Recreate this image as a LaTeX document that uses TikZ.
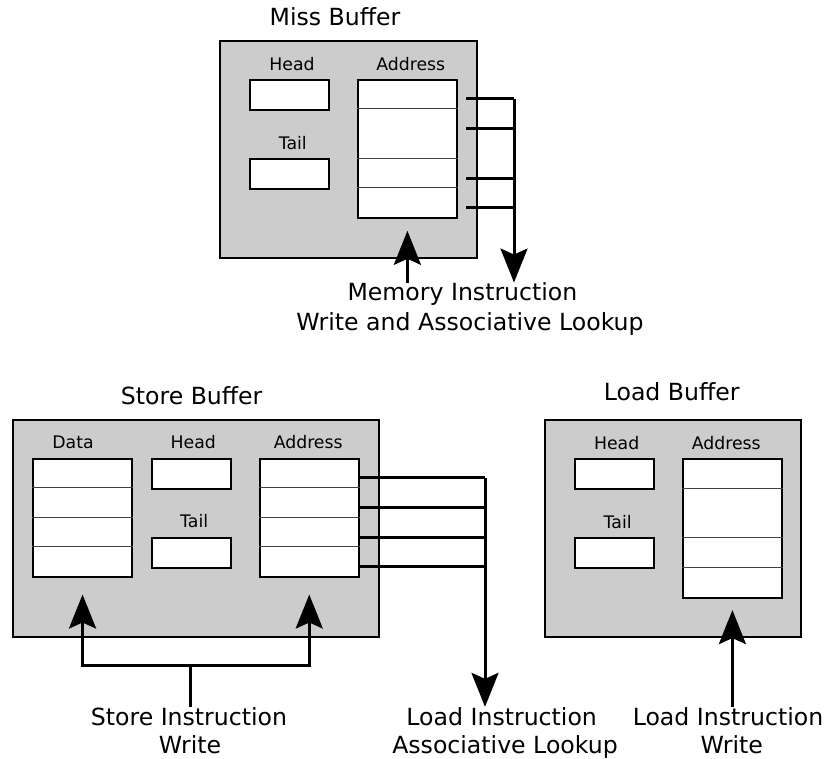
\documentclass[tikz,border=0pt]{standalone}
\usepackage{fontspec}
\setmainfont{DejaVu Sans}
\usetikzlibrary{arrows.meta}
\begin{document}
\begin{tikzpicture}[x=1pt,y=-1pt,
  panel/.style={draw=black, fill=black!20, line width=2pt, inner sep=0pt, anchor=north west},
  field/.style={draw=black, fill=white, line width=1.8pt, inner sep=0pt, anchor=north west},
  rowline/.style={draw=black!75, line width=1pt},
  wire/.style={line width=3pt},
  bigtip/.style={-{Stealth[width=27pt,length=34pt,inset=6pt]}},
  title/.style={font=\fontsize{23.6}{28}\selectfont, anchor=base},
  lbl/.style={font=\fontsize{17.3}{20}\selectfont, anchor=base},
  caption/.style={font=\fontsize{23.6}{28}\selectfont, anchor=base, inner sep=0pt},
]
\useasboundingbox (0,0) rectangle (827,759);

% ---------------- Miss Buffer ----------------
\node[panel, minimum width=257pt, minimum height=217pt] (miss) at (219,40) {};
\node[title] (misst) at (335,26) {Miss Buffer};
\node[field, minimum width=79pt, minimum height=30pt] (mhead) at (249,79) {};
\node[field, minimum width=79pt, minimum height=30pt] (mtail) at (249,158) {};
\node[field, minimum width=99pt, minimum height=138pt] (maddr) at (357,79) {};
\node[lbl] at (292,70.7) {Head};
\node[lbl] at (292.8,150) {Tail};
\node[lbl] at (410.8,70.7) {Address};
\foreach \r in {109,158.5,188}
  \draw[rowline] (maddr.west |- 0,\r) -- (maddr.east |- 0,\r);

\node[caption] (memc1) at (462.5,300.7) {Memory Instruction};
\node[caption] (memc2) at (470,330.5) {Write and Associative Lookup};

% lookup lines gathered into one bus
\coordinate (mbus) at (514,99);
\foreach \r in {99,128.3,178.3,207.7}
  \draw[wire] (466,\r) -- (mbus |- 0,\r);
\draw[wire, bigtip] (mbus) -- (mbus |- memc1.north);
\draw[wire, bigtip] (memc1.north -| maddr.south) -- ([yshift=-12pt]maddr.south);

% ---------------- Store Buffer ----------------
\node[panel, minimum width=365.4pt, minimum height=216.7pt] (store) at (12.3,419) {};
\node[title] (storet) at (191.7,404.3) {Store Buffer};
\node[field, minimum width=98.7pt, minimum height=118pt] (sdata) at (32.3,458.3) {};
\node[field, minimum width=79pt, minimum height=29.4pt] (shead) at (150.7,458.3) {};
\node[field, minimum width=79pt, minimum height=30pt] (stail) at (150.7,536.7) {};
\node[field, minimum width=98.7pt, minimum height=118pt] (saddr) at (259,458.3) {};
\node[lbl] at (73,448.3) {Data};
\node[lbl] at (193.3,448.3) {Head};
\node[lbl] at (194.2,527.3) {Tail};
\node[lbl] at (308.2,448.3) {Address};
\foreach \r in {487.7,517,546.7} {
  \draw[rowline] (sdata.west |- 0,\r) -- (sdata.east |- 0,\r);
  \draw[rowline] (saddr.west |- 0,\r) -- (saddr.east |- 0,\r);
}

\node[caption] (stc1) at (189,725) {Store Instruction};
\node[caption] (stc2) at (190,753.3) {Write};
\node[caption] (llc1) at (501.7,725) {Load Instruction};
\node[caption] (llc2) at (505,753.3) {Associative Lookup};

% store write path
\coordinate (sjoin) at (190.2,665);
\draw[wire] (stc1.north -| sjoin) -- (sjoin);
\draw[wire, bigtip] (sjoin) -| ([yshift=-16.4pt]sdata.south);
\draw[wire, bigtip] (sjoin) -| ([yshift=-16.4pt]saddr.south);

% load lookup bus
\coordinate (sbus) at (485,477.7);
\foreach \r in {477.7,507.3,537,566.7}
  \draw[wire] (saddr.east |- 0,\r) -- (sbus |- 0,\r);
\draw[wire, bigtip] (sbus) -- (sbus |- llc1.north);

% ---------------- Load Buffer ----------------
\node[panel, minimum width=256.3pt, minimum height=216.4pt] (load) at (544,419.3) {};
\node[title] (loadt) at (671.7,400) {Load Buffer};
\node[field, minimum width=79.3pt, minimum height=29.7pt] (lhead) at (573.7,458.3) {};
\node[field, minimum width=79.3pt, minimum height=29.7pt] (ltail) at (573.7,537.3) {};
\node[field, minimum width=99pt, minimum height=138.4pt] (laddr) at (682,458.3) {};
\node[lbl] at (616.7,449) {Head};
\node[lbl] at (617.7,528.3) {Tail};
\node[lbl] at (726.2,449) {Address};
\foreach \r in {488,537.3,567}
  \draw[rowline] (laddr.west |- 0,\r) -- (laddr.east |- 0,\r);

\node[caption] (lwc1) at (728,725) {Load Instruction};
\node[caption] (lwc2) at (731.7,753.3) {Write};
\draw[wire, bigtip] (lwc1.north -| laddr.south) -- ([yshift=-11.6pt]laddr.south);

\end{tikzpicture}
\end{document}
